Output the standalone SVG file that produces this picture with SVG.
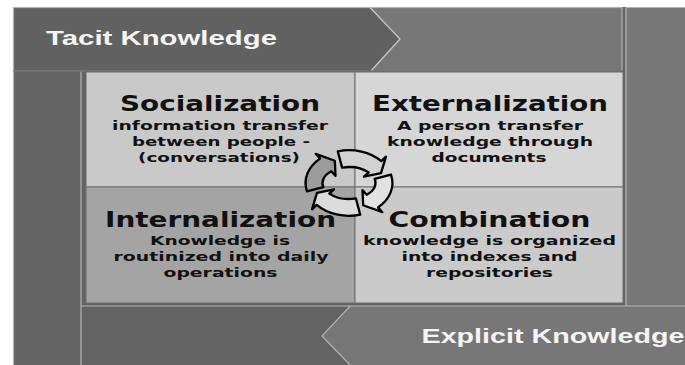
<svg xmlns="http://www.w3.org/2000/svg" width="685" height="365" viewBox="0 0 685 365">
  <style>
    .edge { stroke: #b4b4b4; stroke-width: 1.2; }
    .quad { stroke: #6c6c6c; stroke-width: 1; }
    .band { font-family: "Liberation Sans", Arial, sans-serif; font-weight: bold; font-size: 20px; fill: #f5f5f5; }
    .title { font-family: "DejaVu Sans", "Liberation Sans", sans-serif; font-weight: bold; font-size: 21px; fill: #111; text-anchor: middle; }
    .body { font-family: "DejaVu Sans", "Liberation Sans", sans-serif; font-weight: bold; font-size: 13px; fill: #111; text-anchor: middle; }
    .seg { stroke: #000; stroke-width: 2.2; stroke-linejoin: round; }
  </style>

  <rect width="685" height="365" fill="#ffffff"/>

  <!-- frame -->
  <g id="frame">
    <rect x="13" y="7" width="672" height="358" fill="#636363"/>
    <rect x="625" y="7" width="60" height="299" fill="#777777"/>
    <line class="edge" x1="626" y1="7.5" x2="626" y2="306"/>
    <line class="edge" x1="626" y1="7.5" x2="685" y2="7.5"/>
    <line class="edge" x1="13.5" y1="71" x2="13.5" y2="365"/>
    <line class="edge" x1="81" y1="71" x2="81" y2="365"/>
  </g>

  <!-- tacit knowledge band -->
  <g id="tacit">
    <polygon points="370,7.5 622,7.5 622,71 371,71 400,39" fill="#777777"/>
    <polygon points="13.5,7.5 370,7.5 400,39 371,71 13.5,71" fill="#616161"/>
    <rect class="edge" x="13.5" y="7.5" width="608.5" height="63.5" fill="none"/>
    <polyline points="370,7.5 400,39 371,71" fill="none" stroke="#c8c8c8" stroke-width="1.3"/>
    <line x1="13.5" y1="71" x2="623" y2="71" stroke="#505050" stroke-width="1"/>
    <text class="band" x="46" y="44.5" textLength="231" lengthAdjust="spacingAndGlyphs">Tacit Knowledge</text>
  </g>

  <!-- explicit knowledge band -->
  <g id="explicit">
    <polygon points="350,306 685,306 685,365 350,365 322,336" fill="#777777"/>
    <polyline class="edge" points="685,306 350,306 322,336 350,365" fill="none"/>
    <line class="edge" x1="81" y1="306" x2="350" y2="306"/>
    <text class="band" x="421.5" y="343" textLength="263" lengthAdjust="spacingAndGlyphs">Explicit Knowledge</text>
  </g>

  <!-- quadrants -->
  <g id="socialization">
    <rect class="quad" x="86" y="72" width="269" height="115" fill="#c9c9c9"/>
    <text class="title" x="220" y="110.5" textLength="200" lengthAdjust="spacingAndGlyphs">Socialization</text>
    <text class="body" x="220" y="129.5" textLength="216" lengthAdjust="spacingAndGlyphs">information transfer</text>
    <text class="body" x="221" y="145.5" textLength="178" lengthAdjust="spacingAndGlyphs">between people -</text>
    <text class="body" x="219" y="161.5" textLength="162" lengthAdjust="spacingAndGlyphs">(conversations)</text>
  </g>

  <g id="externalization">
    <rect class="quad" x="355" y="72" width="268" height="115" fill="#d6d6d6"/>
    <text class="title" x="490" y="110.5" textLength="236" lengthAdjust="spacingAndGlyphs">Externalization</text>
    <text class="body" x="490" y="129.5" textLength="186" lengthAdjust="spacingAndGlyphs">A person transfer</text>
    <text class="body" x="490" y="145.5" textLength="206" lengthAdjust="spacingAndGlyphs">knowledge through</text>
    <text class="body" x="489" y="161.5" textLength="115" lengthAdjust="spacingAndGlyphs">documents</text>
  </g>

  <g id="internalization">
    <rect class="quad" x="86" y="187" width="269" height="116" fill="#a4a4a4"/>
    <text class="title" x="220.5" y="226.5" textLength="231" lengthAdjust="spacingAndGlyphs">Internalization</text>
    <text class="body" x="220" y="244.5" textLength="140" lengthAdjust="spacingAndGlyphs">Knowledge is</text>
    <text class="body" x="221" y="261" textLength="215" lengthAdjust="spacingAndGlyphs">routinized into daily</text>
    <text class="body" x="220.5" y="277" textLength="114" lengthAdjust="spacingAndGlyphs">operations</text>
  </g>

  <g id="combination">
    <rect class="quad" x="355" y="187" width="268" height="116" fill="#cacaca"/>
    <text class="title" x="489.5" y="226.5" textLength="202" lengthAdjust="spacingAndGlyphs">Combination</text>
    <text class="body" x="489.5" y="244.5" textLength="253" lengthAdjust="spacingAndGlyphs">knowledge is organized</text>
    <text class="body" x="489.5" y="261" textLength="176" lengthAdjust="spacingAndGlyphs">into indexes and</text>
    <text class="body" x="489.5" y="277" textLength="127" lengthAdjust="spacingAndGlyphs">repositories</text>
  </g>

  <!-- clockwise cycle of four curved arrows -->
  <g id="cycle" transform="translate(349 183) scale(1.06) translate(-349 -184)">
    <!-- bottom -->
    <path class="seg" fill="#dcdcdc" d="M 359.6 213.9 A 41 31 0 0 1 318.5 204.7 L 314.1 208.8 L 318.8 193.4 L 334.9 190.0 L 330.4 194.0 A 25 15 0 0 0 355.5 198.5 Z"/>
    <!-- right -->
    <path class="seg" fill="#e2e2e2" d="M 388.6 176.0 A 41 31 0 0 1 376.4 207.0 L 380.4 211.5 L 362.4 205.0 L 361.7 190.7 L 365.7 195.1 A 25 15 0 0 0 373.2 180.1 Z"/>
    <!-- top -->
    <path class="seg" fill="#d2d2d2" d="M 338.4 154.1 A 41 31 0 0 1 379.5 163.3 L 383.9 159.2 L 379.2 174.6 L 363.1 178.0 L 367.6 174.0 A 25 15 0 0 0 342.5 169.5 Z"/>
    <!-- left -->
    <path class="seg" fill="#9c9c9c" d="M 309.4 192.0 A 41 31 0 0 1 321.6 161.0 L 317.6 156.5 L 335.6 163.0 L 336.3 177.3 L 332.3 172.9 A 25 15 0 0 0 324.8 187.9 Z"/>
  </g>
</svg>
